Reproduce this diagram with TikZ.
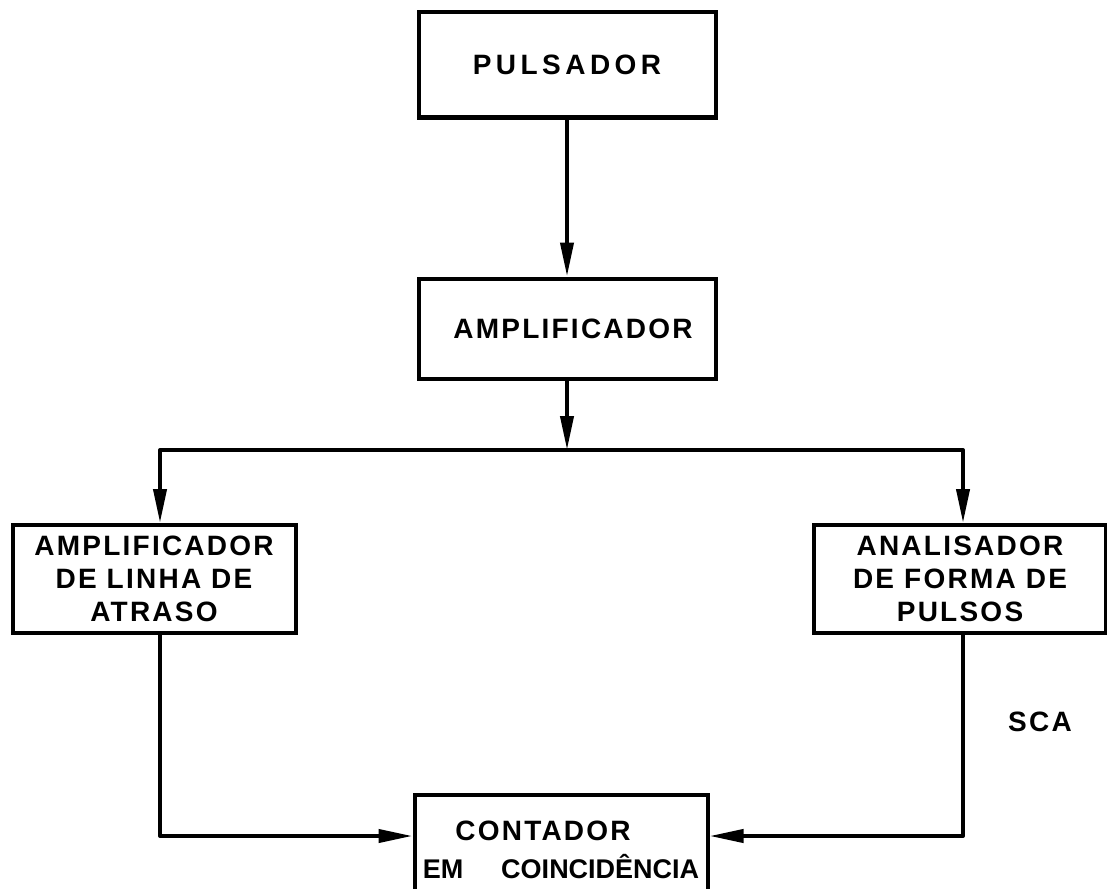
\documentclass[tikz,border=0pt]{standalone}
\usepackage{fontspec}
\newfontfamily\labelfont{Liberation Sans}[LetterSpace=8]
\newfontfamily\widelabelfont{Liberation Sans}[LetterSpace=16]
\newfontfamily\tightlabelfont{Liberation Sans}
\usetikzlibrary{arrows.meta, positioning}

\begin{document}
\begin{tikzpicture}[
    x=0.5pt, y=-0.5pt,
    block/.style={draw, line width=2pt, align=center, inner sep=0pt, font=\labelfont\bfseries\fontsize{14pt}{16.5pt}\selectfont},
    arrow/.style={-{Triangle[length=17pt,width=6.5pt]}, line width=2pt, line join=round},
    label/.style={font=\labelfont\bfseries\fontsize{14pt}{16.5pt}\selectfont}
]
\clip (0,0) rectangle (1107,888);

\node[block, minimum width=148.5pt, minimum height=52.5pt, font=\widelabelfont\bfseries\fontsize{14pt}{16.5pt}\selectfont] (puls) at (567,65) {PULSADOR};
\node[block, minimum width=148.5pt, minimum height=50pt, below=78.5pt of puls] (amp) {\hspace*{6pt}AMPLIFICADOR};
\node[block, minimum width=141.5pt, minimum height=54pt] (delay) at (154,579) {AMPLIFICADOR\\DE LINHA DE\\ATRASO};
\node[block, minimum width=146pt, minimum height=54pt] (psa) at (960,579) {ANALISADOR\\DE FORMA DE\\PULSOS};
\node[block, minimum width=146.5pt, minimum height=55pt] (coinc) at (561,850) {CONTADOR\hspace*{18pt}\\[2.5pt]{\tightlabelfont\fontsize{13.5pt}{16.5pt}\selectfont EM\hspace{19pt}COINCIDÊNCIA}};
\node[label] (sca) at (1040,722) {SCA};

\coordinate (jc) at (567,450);
\coordinate (jl) at (160,450);
\coordinate (jr) at (963,450);
\coordinate (low) at (0,836);

\draw[arrow] (puls) -- (amp);
\draw[arrow] (amp) -- (jc);
\draw[arrow] (jc) -| (jl |- delay.north);
\draw[arrow] (jc) -| (jr |- psa.north);
\draw[arrow] (jl |- delay.south) |- (coinc.west |- low);
\draw[arrow] (jr |- psa.south) |- (coinc.east |- low);
\end{tikzpicture}
\end{document}
